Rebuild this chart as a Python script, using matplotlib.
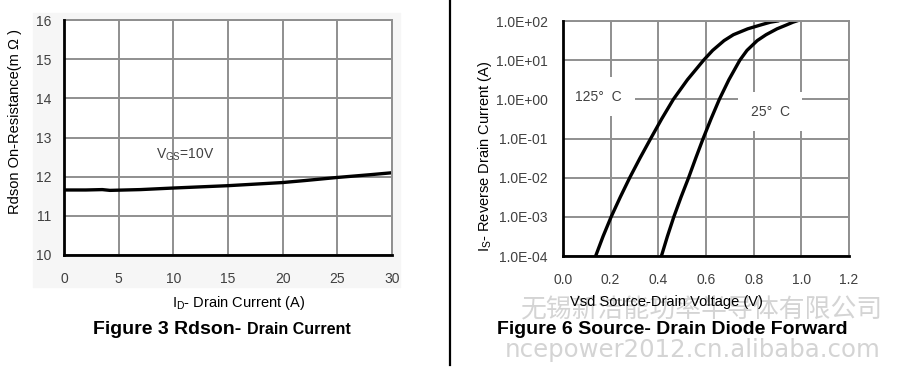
import numpy as np
import matplotlib
matplotlib.use('Agg')
import matplotlib.pyplot as plt
from matplotlib.patches import Rectangle
from matplotlib.lines import Line2D

plt.rcParams['font.family'] = ['Liberation Sans', 'DejaVu Sans']
plt.rcParams['mathtext.fontset'] = 'custom'
plt.rcParams['mathtext.rm'] = 'Liberation Sans'
plt.rcParams['mathtext.it'] = 'Liberation Sans:italic'

# Figure 3: Rdson vs drain current (VGS = 10V)
id_amp = [0, 2, 3.5, 4.2, 7, 10, 15, 20, 22, 25, 28, 30]
rdson = [11.66, 11.66, 11.67, 11.65, 11.67, 11.71, 11.77, 11.85, 11.90, 11.98, 12.05, 12.10]

# Figure 6: diode forward, log10 of Is vs Vsd
log_is_125 = [-4, -3.5, -3, -2.5, -2, -1.5, -1, -0.5, 0, 0.5, 1, 1.25, 1.5, 1.65, 1.8, 1.9, 1.97, 2]
vsd_125 = [0.137, 0.168, 0.202, 0.240, 0.280, 0.323, 0.368, 0.414, 0.463, 0.522, 0.590, 0.628, 0.676, 0.715, 0.775, 0.830, 0.870, 0.900]
log_is_25 = [-4, -3.5, -3, -2.5, -2, -1.5, -1, -0.5, 0, 0.5, 1, 1.25, 1.5, 1.65, 1.8, 1.9, 1.97, 2]
vsd_25 = [0.413, 0.438, 0.465, 0.495, 0.527, 0.557, 0.588, 0.621, 0.656, 0.696, 0.742, 0.772, 0.815, 0.852, 0.898, 0.938, 0.965, 0.980]

left_xticks = [0, 5, 10, 15, 20, 25, 30]
left_yticks = [10, 11, 12, 13, 14, 15, 16]
right_xticks = [0.0, 0.2, 0.4, 0.6, 0.8, 1.0, 1.2]
right_ytick_labels = ['1.0E-04', '1.0E-03', '1.0E-02', '1.0E-01', '1.0E+00', '1.0E+01', '1.0E+02']

W, H = 909, 383
fig = plt.figure(figsize=(W / 100, H / 100), dpi=100)

def fx(x):
    return x / W

def fy(y):
    return 1 - y / H

grid_c = '#8f8f8f'
tick_c = '#404040'

# light gray panel behind the left chart
fig.patches.append(Rectangle((fx(33), fy(287)), fx(400) - fx(33), fy(13) - fy(287),
                             transform=fig.transFigure, color='#f6f6f6', zorder=-10))
# separator line
fig.lines.append(Line2D([fx(449.5), fx(449.5)], [fy(365), 1.0], transform=fig.transFigure,
                        color='black', lw=1.6))

def style(ax):
    ax.set_facecolor('white')
    ax.grid(True, color=grid_c, lw=1.4)
    ax.set_axisbelow(True)
    for s in ['top', 'right']:
        ax.spines[s].set_color(grid_c)
        ax.spines[s].set_linewidth(1.4)
    for s in ['left', 'bottom']:
        ax.spines[s].set_color('black')
        ax.spines[s].set_linewidth(2.0)
        ax.spines[s].set_zorder(5)
    ax.tick_params(which='both', length=0, colors=tick_c, labelsize=10)
    ax.tick_params(axis='x', pad=12)

# ---- left chart
ax1 = fig.add_axes([fx(64), fy(255), fx(392) - fx(64), fy(20) - fy(255)])
style(ax1)
ax1.plot(id_amp, rdson, color='black', lw=2.4, solid_capstyle='round')
ax1.set_xlim(0, 30)
ax1.set_ylim(10, 16)
ax1.set_xticks(left_xticks)
ax1.set_yticks(left_yticks)
ax1.tick_params(axis='y', pad=9)
ax1.text(11.1, 12.55, r'V$_{\mathrm{GS}}$=10V', color='#404040', fontsize=10, ha='center', va='center')

fig.text(fx(15), fy(122), 'Rdson On-Resistance(m Ω )', rotation=90, ha='center', va='center', fontsize=10.5)
fig.text(fx(239), fy(303), r'I$_\mathrm{D}$- Drain Current (A)', ha='center', va='center', fontsize=10.5)
t1 = fig.text(fx(93), fy(334), 'Figure 3 Rdson-', ha='left', va='baseline', fontsize=14, fontweight='bold')
fig.canvas.draw()
bb = t1.get_window_extent()
fig.text((bb.x1 + 6) / W, fy(334), 'Drain Current', ha='left', va='baseline', fontsize=11.5, fontweight='bold')

# ---- right chart
ax2 = fig.add_axes([fx(563), fy(256), fx(849) - fx(563), fy(21) - fy(256)])
style(ax2)
ax2.set_yscale('log')
ax2.plot(vsd_125, 10 ** np.array(log_is_125), color='black', lw=2.4)
ax2.plot(vsd_25, 10 ** np.array(log_is_25), color='black', lw=2.4)
ax2.set_xlim(0, 1.2)
ax2.set_ylim(1e-4, 1e2)
ax2.set_xticks(right_xticks)
ax2.set_xticklabels(['%.1f' % v for v in right_xticks])
ax2.set_yticks([10.0 ** e for e in range(-4, 3)])
ax2.set_yticklabels(right_ytick_labels)
ax2.minorticks_off()
ax2.tick_params(axis='y', pad=11)
ax2.text(0.15, 10 ** 0.06, '125°  C', color='#404040', fontsize=10, ha='center', va='center',
         bbox=dict(facecolor='white', edgecolor='none', boxstyle='square,pad=0.9'), zorder=3)
ax2.text(0.87, 10 ** -0.32, '25°  C', color='#404040', fontsize=10, ha='center', va='center',
         bbox=dict(facecolor='white', edgecolor='none', boxstyle='square,pad=0.9'), zorder=3)

# watermark
fig.text(fx(702), fy(310), '无锡新洁能功率半导体有限公司', ha='center', va='center', fontsize=18.6,
         color='#d4d4d4', family=['Noto Sans CJK SC', 'DejaVu Sans'], zorder=0)
fig.text(fx(693), fy(350), 'ncepower2012.cn.alibaba.com', ha='center', va='center', fontsize=17.6,
         color='#d4d4d4', family=['DejaVu Sans'], zorder=0)

fig.text(fx(485), fy(156), r'I$_\mathrm{S}$- Reverse Drain Current (A)', rotation=90, ha='center', va='center', fontsize=10.5)
fig.text(fx(666), fy(302), 'Vsd Source-Drain Voltage (V)', ha='center', va='center', fontsize=10.5, zorder=2)
fig.text(fx(672), fy(334), 'Figure 6 Source- Drain Diode Forward', ha='center', va='baseline', fontsize=14, fontweight='bold', zorder=2)

fig.savefig('out.png', dpi=100)
